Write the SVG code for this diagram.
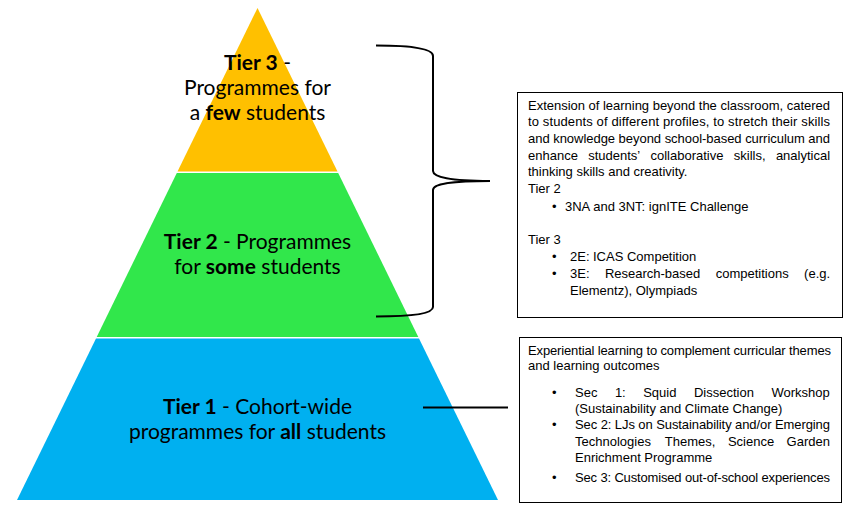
<svg xmlns="http://www.w3.org/2000/svg" width="860" height="518" viewBox="0 0 860 518">
<style>
.tier{font-family:Lato,"Liberation Sans",sans-serif;font-size:21px;fill:#000;text-anchor:middle}
.b{font-weight:bold}
.box{fill:#fff;stroke:#000;stroke-width:1}
.txt{font-family:"Liberation Sans",Arial,sans-serif;font-size:13px;fill:#000}
.ln{fill:none;stroke:#000;stroke-width:2}
</style>
<rect width="860" height="518" fill="#fff"/>
<g id="tier3">
<polygon points="257.5,8 177.5,171.5 337.5,171.5" fill="#FFC000"/>
<text class="tier" x="257.5" y="70"><tspan class="b">Tier 3</tspan> -</text>
<text class="tier" x="257.5" y="95">Programmes for</text>
<text class="tier" x="257.5" y="120">a <tspan class="b">few</tspan> students</text>
</g>
<g id="tier2">
<polygon points="176.8,173 338.2,173 418.3,337 96.7,337" fill="#31E74B"/>
<text class="tier" x="257.5" y="249"><tspan class="b">Tier 2</tspan> - Programmes</text>
<text class="tier" x="257.5" y="274">for <tspan class="b">some</tspan> students</text>
</g>
<g id="tier1">
<polygon points="96,338.5 419,338.5 498,500 17,500" fill="#00B0F0"/>
<text class="tier" x="257.5" y="414"><tspan class="b">Tier 1</tspan> - Cohort-wide</text>
<text class="tier" x="257.5" y="439">programmes for <tspan class="b">all</tspan> students</text>
</g>
<g id="connectors">
<path class="ln" d="M376,45.5 C410,45.5 433,48 433,56 L433,171 C433,177 450,181 490,181 M490,181 C450,181 433,184 433,190 L433,307 C433,314 410,316.5 376,316.5"/>
<line class="ln" x1="423" y1="407.5" x2="508" y2="407.5"/>
</g>
<g id="box-upper">
<rect class="box" x="517.5" y="92.5" width="325" height="225"/>
<text class="txt" x="528" y="109.5" textLength="302">Extension of learning beyond the classroom, catered</text>
<text class="txt" x="528" y="126" textLength="302">to students of different profiles, to stretch their skills</text>
<text class="txt" x="528" y="143" textLength="302">and knowledge beyond school-based curriculum and</text>
<text class="txt" y="159.5"><tspan x="528">enhance</tspan><tspan x="588.2">students’</tspan><tspan x="650.5">collaborative</tspan><tspan x="733.8">skills,</tspan><tspan x="775.9">analytical</tspan></text>
<text class="txt" x="528" y="176">thinking skills and creativity.</text>
<text class="txt" x="528" y="192.5">Tier 2</text>
<text class="txt" x="552" y="210.5">•</text>
<text class="txt" x="565" y="210.5">3NA and 3NT: ignITE Challenge</text>
<text class="txt" x="528" y="244">Tier 3</text>
<text class="txt" x="552" y="261">•</text>
<text class="txt" y="261"><tspan x="570">2E:</tspan><tspan x="593">ICAS Competition</tspan></text>
<text class="txt" x="552" y="278">•</text>
<text class="txt" y="278"><tspan x="570">3E:</tspan><tspan x="604.9">Research-based</tspan><tspan x="715.7">competitions</tspan><tspan x="804.1">(e.g.</tspan></text>
<text class="txt" x="570" y="295">Elementz), Olympiads</text>
</g>
<g id="box-lower">
<rect class="box" x="519.5" y="337.5" width="322" height="165"/>
<text class="txt" x="528" y="354.5" textLength="303">Experiential learning to complement curricular themes</text>
<text class="txt" x="528" y="370">and learning outcomes</text>
<text class="txt" x="552" y="397">•</text>
<text class="txt" y="397"><tspan x="575">Sec</tspan><tspan x="614.9">1:</tspan><tspan x="643.2">Squid</tspan><tspan x="693.9">Dissection</tspan><tspan x="771.4">Workshop</tspan></text>
<text class="txt" x="575" y="413">(Sustainability and Climate Change)</text>
<text class="txt" x="552" y="429">•</text>
<text class="txt" x="575" y="429" textLength="255">Sec 2: LJs on Sustainability and/or Emerging</text>
<text class="txt" y="445.5"><tspan x="575">Technologies</tspan><tspan x="664.8">Themes,</tspan><tspan x="727.9">Science</tspan><tspan x="786.6">Garden</tspan></text>
<text class="txt" x="575" y="461.5">Enrichment Programme</text>
<text class="txt" x="552" y="482">•</text>
<text class="txt" x="575" y="482" textLength="255">Sec 3: Customised out-of-school experiences</text>
</g>
</svg>
